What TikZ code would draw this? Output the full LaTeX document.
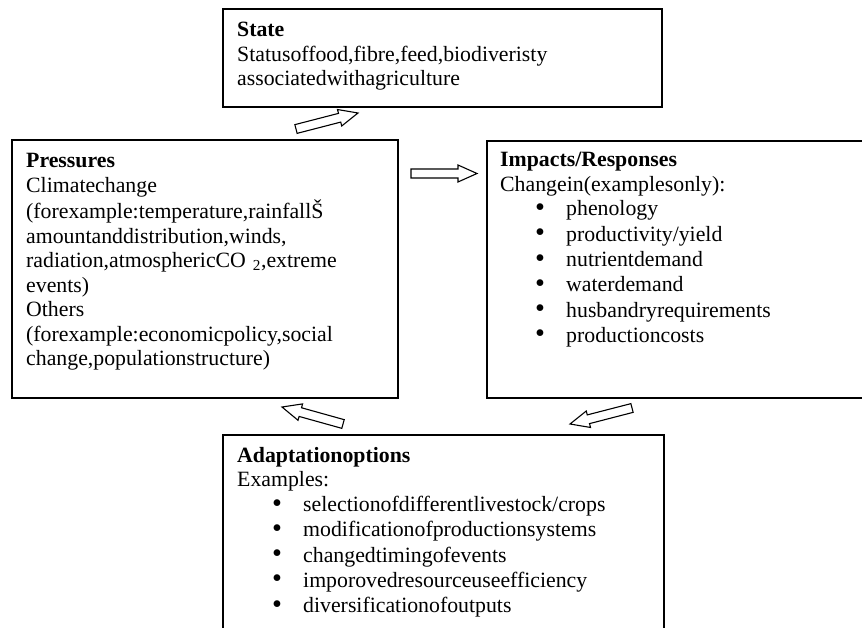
\documentclass[tikz,border=0pt]{standalone}
\usepackage{fontspec}
\setmainfont{Liberation Serif}
\usetikzlibrary{calc}
\tikzset{
  boxstyle/.style={draw=black, line width=1.3pt, fill=none},
  txt/.style={inner sep=0pt, anchor=base west, font=\fontsize{21.8}{24.5}\selectfont},
  blockarr/.style={draw=black, line width=1.1pt, fill=white, line join=miter}
}
\newcommand{\bul}[1]{\hspace*{35pt}\makebox[31pt][l]{\raisebox{-0.5pt}{\scalebox{1.3}{\textbullet}}}#1}
\newcommand{\blockarrow}[2]{%
  \coordinate (#1-#2-h) at ($(#2)!19pt!(#1)$);
  \draw[blockarr] ($(#1)!4.5pt!90:(#2)$) -- ($(#1-#2-h)!4.5pt!-90:(#1)$)
    -- ($(#1-#2-h)!8.5pt!-90:(#1)$) -- (#2) -- ($(#1-#2-h)!8.5pt!90:(#1)$)
    -- ($(#1-#2-h)!4.5pt!90:(#1)$) -- ($(#1)!4.5pt!-90:(#2)$) -- cycle;}
\begin{document}
\begin{tikzpicture}[x=1pt,y=-1pt]
\useasboundingbox (0,0) rectangle (862,628);
\clip (0,0) rectangle (862,628);
% boxes
\draw[boxstyle] (223,9) rectangle (662,107);
\draw[boxstyle] (12,140) rectangle (398,398);
\draw[boxstyle] (487,141) rectangle (880,398);
\draw[boxstyle] (223,435) rectangle (664,650);
% texts
\node[txt] (statetxt) at (237,37) {\begin{tabular}[t]{@{}l@{}}\textbf{State}\\Statusoffood,fibre,feed,biodiveristy\\associatedwithagriculture\end{tabular}};
\node[txt] (prestxt) at (26,168) {\begin{tabular}[t]{@{}l@{}}\textbf{Pressures}\\Climatechange\\(forexample:temperature,rainfallŠ\\amountanddistribution,winds,\\radiation,atmosphericCO\hspace{7pt}\textsubscript{2},extreme\\events)\\Others\\(forexample:economicpolicy,social\\change,populationstructure)\end{tabular}};
\node[txt] (imptxt) at (500,167) {\begin{tabular}[t]{@{}l@{}}\textbf{Impacts/Responses}\\Changein(examplesonly):\\
\bul{phenology}\\[0.8pt]
\bul{productivity/yield}\\[0.8pt]
\bul{nutrientdemand}\\[0.8pt]
\bul{waterdemand}\\[0.8pt]
\bul{husbandryrequirements}\\[0.8pt]
\bul{productioncosts}\end{tabular}};
\node[txt] (adatxt) at (237,462) {\begin{tabular}[t]{@{}l@{}}\textbf{Adaptationoptions}\\Examples:\\[0.5pt]
\bul{selectionofdifferentlivestock/crops}\\[0.8pt]
\bul{modificationofproductionsystems}\\[0.8pt]
\bul{changedtimingofevents}\\[0.8pt]
\bul{imporovedresourceuseefficiency}\\[0.8pt]
\bul{diversificationofoutputs}\end{tabular}};
% arrows
\coordinate (a1t) at (296,129);
\coordinate (a1h) at (358,113);
\coordinate (a2t) at (411,173.5);
\coordinate (a2h) at (477,173.5);
\coordinate (a3t) at (343,424);
\coordinate (a3h) at (282,407);
\coordinate (a4t) at (632,408);
\coordinate (a4h) at (570,424);
\blockarrow{a1t}{a1h}
\blockarrow{a2t}{a2h}
\blockarrow{a3t}{a3h}
\blockarrow{a4t}{a4h}
\end{tikzpicture}
\end{document}
